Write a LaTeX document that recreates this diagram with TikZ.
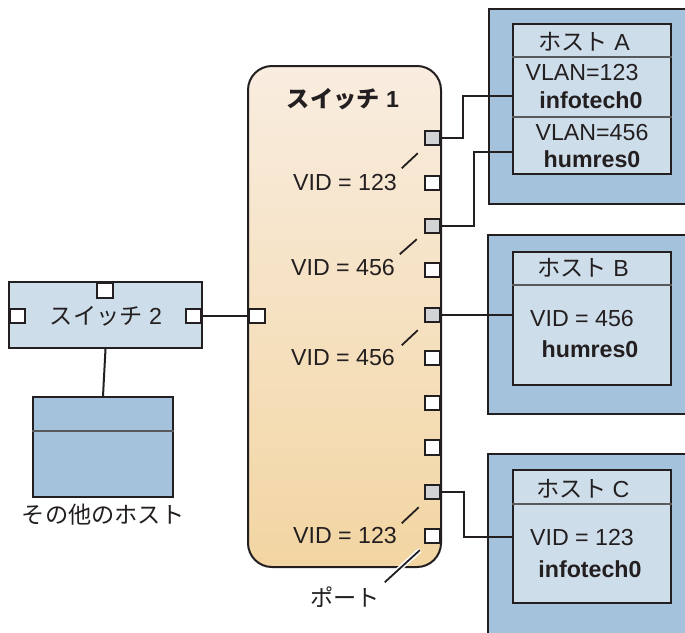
\documentclass[tikz,border=0pt]{standalone}
\usepackage{fontspec}
\setmainfont{Liberation Sans}
\newfontfamily\jp{Noto Sans CJK JP}
\definecolor{ln}{HTML}{231F20}
\definecolor{hostouter}{HTML}{A4C2DC}
\definecolor{hostinner}{HTML}{CEDDEA}
\definecolor{portgrey}{HTML}{D2D3D5}
\definecolor{divgrey}{HTML}{58595B}
\definecolor{swtop}{HTML}{F9EDE0}
\definecolor{swmid}{HTML}{FCF5EE}
\definecolor{swbot}{HTML}{F2D5A2}
\tikzset{
  box/.style={draw=ln, line width=2pt, rectangle, inner sep=0pt},
  portbox/.style={draw=ln, line width=2pt, fill=white, rectangle, minimum width=15.5pt, minimum height=14.5pt, inner sep=0pt},
  gport/.style={portbox, fill=portgrey},
  conn/.style={draw=ln, line width=2pt},
  lead/.style={draw=ln, line width=1.8pt},
  divline/.style={draw=divgrey, line width=1.2pt},
  txt/.style={font=\fontsize{23.2}{26}\selectfont, inner sep=0pt, text=ln},
  btxt/.style={txt, font=\fontsize{23.2}{26}\selectfont\bfseries},
}
\begin{document}
\begin{tikzpicture}[x=1pt,y=-1pt]
\clip (0,0) rectangle (685,632);
\fill[white] (0,0) rectangle (685,632);

% hosts
\node[box, fill=hostouter, minimum width=212pt, minimum height=195pt] (hA) at (595,106.5) {};
\node[box, fill=hostinner, minimum width=158pt, minimum height=150pt] (hAi) at (592,99) {};
\coordinate (hAd1) at (592,57);
\coordinate (hAd2) at (592,117);
\draw[divline] (hAi.west |- hAd1) -- (hAi.east |- hAd1);
\draw[divline] (hAi.west |- hAd2) -- (hAi.east |- hAd2);

\node[box, fill=hostouter, minimum width=212pt, minimum height=179pt] (hB) at (594,324.5) {};
\node[box, fill=hostinner, minimum width=158pt, minimum height=133pt] (hBi) at (592,318.5) {};
\coordinate (hBd) at (592,285);
\draw[divline] (hBi.west |- hBd) -- (hBi.east |- hBd);

\node[box, fill=hostouter, minimum width=212pt, minimum height=196pt] (hC) at (594,552) {};
\node[box, fill=hostinner, minimum width=158pt, minimum height=133pt] (hCi) at (592,536.5) {};
\coordinate (hCd) at (592,504);
\draw[divline] (hCi.west |- hCd) -- (hCi.east |- hCd);

% switch 1
\node[box, rounded corners=24pt, top color=swtop, middle color=swmid, bottom color=swbot,
      minimum width=193pt, minimum height=501pt] (s1) at (344.5,316.5) {};

% switch 2 and other host
\node[box, fill=hostinner, minimum width=193pt, minimum height=66pt] (s2) at (105.5,315) {};
\node[box, fill=hostouter, minimum width=140pt, minimum height=100pt] (oh) at (103,447) {};
\coordinate (ohd) at (103,431);
\draw[divline] (oh.west |- ohd) -- (oh.east |- ohd);
\draw[conn] (s2.south) -- (oh.north);

% ports
\node[gport] (p1) at (432.5,138) {};
\node[portbox] (p2) at (432.5,183) {};
\node[gport] (p3) at (432.5,226) {};
\node[portbox] (p4) at (432.5,270) {};
\node[gport] (p5) at (432.5,315) {};
\node[portbox] (p6) at (432.5,358) {};
\node[portbox] (p7) at (432.5,403) {};
\node[portbox] (p8) at (432.5,447.5) {};
\node[gport] (p9) at (432.5,492) {};
\node[portbox] (p10) at (432.5,536) {};

\node[portbox] (s1l) at (257,316) {};
\node[portbox] (s2tp) at (105,290.5) {};
\node[portbox] (s2l) at (17.5,316) {};
\node[portbox] (s2r) at (193.5,316) {};

% connectors
\draw[conn] (s2r.east) -- (s1l.west);
\draw[conn] (p1.east) -- ++(22,0) |- ([yshift=3pt]hAi.west);
\draw[conn] (p3.east) -- ++(33,0) |- ([yshift=-53pt]hAi.west);
\draw[conn] (p5.east) -- (p5.east -| hBi.west);
\draw[conn] (p9.east) -- ++(23,0) |- (hCi.west);

% leader lines
\draw[lead] ([shift={(-6,7)}]p1.south west) -- ++(-16,15);
\draw[lead] ([shift={(-7,5)}]p3.south west) -- ++(-17,15);
\draw[lead] ([shift={(-6,7)}]p5.south west) -- ++(-16,15);
\draw[lead] ([shift={(-5,7)}]p9.south west) -- ++(-17,16);
\draw[white, line width=5pt] ([shift={(-4,6)}]p10.south west) -- ++(-35,32);
\draw[lead] ([shift={(-4,6)}]p10.south west) -- ++(-35,32);

% texts
\node[btxt] (t1) at (343,99) {{\jp\bfseries スイッチ} 1};
\node[txt] (v1) at (345,183) {VID = 123};
\node[txt] (v2) at (343,268) {VID = 456};
\node[txt] (v3) at (343,358) {VID = 456};
\node[txt] (v4) at (345,536) {VID = 123};
\node[txt] (pl) at (345,597) {\jp ポート};
\node[txt] (s2txt) at (106,316) {{\jp スイッチ} 2};
\node[txt] (oht) at (103,515) {\jp その他のホスト};

\node[txt] (ha1) at (584,42) {{\jp ホスト} A};
\node[txt] (ha2) at (582,73) {VLAN=123};
\node[btxt] (ha3) at (591,100) {infotech0};
\node[txt] (ha4) at (592,133) {VLAN=456};
\node[btxt] (ha5) at (592,159) {humres0};

\node[txt] (hb1) at (583,268) {{\jp ホスト} B};
\node[txt] (hb2) at (582,319) {VID = 456};
\node[btxt] (hb3) at (590,349) {humres0};

\node[txt] (hc1) at (583,489) {{\jp ホスト} C};
\node[txt] (hc2) at (582,538) {VID = 123};
\node[btxt] (hc3) at (590,569) {infotech0};
\end{tikzpicture}
\end{document}
